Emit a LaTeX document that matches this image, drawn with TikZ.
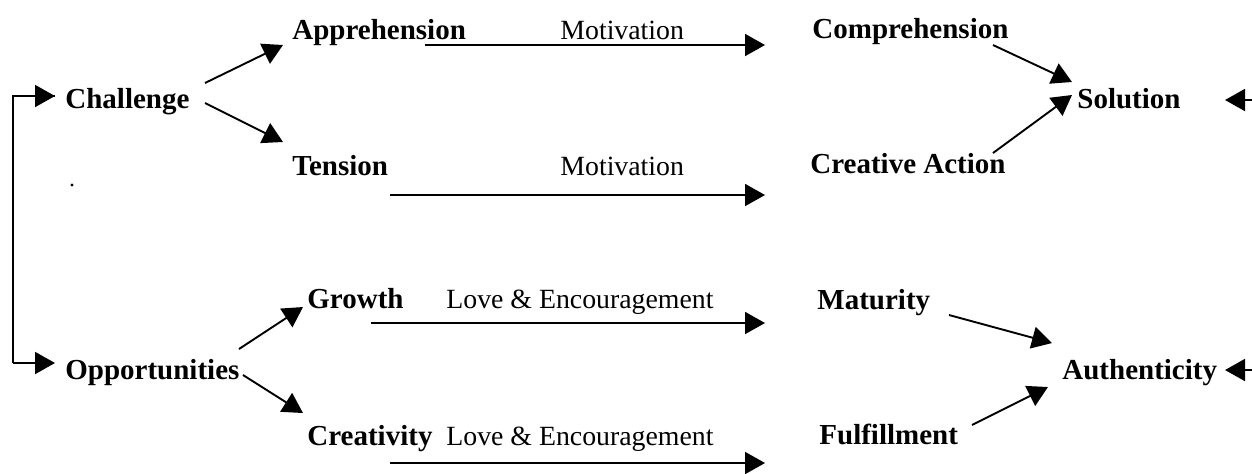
\documentclass[tikz,border=0pt]{standalone}
\usepackage{fontspec}
\setmainfont{Liberation Serif}
\usetikzlibrary{arrows.meta}
\begin{document}
\begin{tikzpicture}[x=0.5pt,y=-0.5pt,
  lbl/.style={anchor=base west,inner sep=0pt,font=\fontsize{14.5}{17}\selectfont\bfseries},
  rel/.style={anchor=base west,inner sep=0pt,font=\fontsize{13.9}{17}\selectfont},
  conn/.style={line width=0.95pt,-{Triangle[length=10pt,width=11pt]}},
  plain/.style={line width=0.95pt}]
\useasboundingbox (0,0) rectangle (1252,473);
% nodes
\node[lbl] (chal) at (65,108) {Challenge};
\node[lbl] (opp) at (65,379) {Opportunities};
\node[lbl] (appr) at (292,39) {Apprehension};
\node[rel] (mot1) at (560,39) {Motivation};
\node[lbl] (comp) at (812,38) {Comprehension};
\node[lbl] (tens) at (292,175) {Tension};
\node[rel] (mot2) at (560,175) {Motivation};
\node[lbl] (cract) at (810,173) {Creative Action};
\node[lbl] (sol) at (1077,108) {Solution};
\node[lbl] (grow) at (307,308) {Growth};
\node[rel] (love1) at (446,308) {Love \& Encouragement};
\node[lbl] (mat) at (817,309) {Maturity};
\node[lbl] (crea) at (307,445) {Creativity};
\node[rel] (love2) at (446,445) {Love \& Encouragement};
\node[lbl] (ful) at (819,444) {Fulfillment};
\node[lbl] (auth) at (1062,379) {Authenticity};
\node[inner sep=0pt,minimum size=1.6pt,fill=black,circle] (dot) at (72,185) {};
% coordinates
\coordinate (bk) at (13,96);
\coordinate (bk2) at (13,363);
\coordinate (chalin) at (55,96);
\coordinate (oppin) at (55,363);
\coordinate (chalA) at (205,83);
\coordinate (apprin) at (283,45);
\coordinate (chalB) at (205,103);
\coordinate (tensin) at (283,142);
\coordinate (approut) at (425,45);
\coordinate (compin) at (765,45);
\coordinate (tensout) at (390,195);
\coordinate (cractin) at (765,195);
\coordinate (compout) at (993,45);
\coordinate (solA) at (1072,82);
\coordinate (cractout) at (993,153);
\coordinate (solB) at (1072,95);
\coordinate (solR) at (1252,100);
\coordinate (solin) at (1225,100);
\coordinate (oppA) at (239,349);
\coordinate (growin) at (303,307);
\coordinate (oppB) at (243,375);
\coordinate (creain) at (303,413);
\coordinate (growout) at (371,323);
\coordinate (matin) at (765,323);
\coordinate (creaout) at (390,463);
\coordinate (fulin) at (765,463);
\coordinate (matout) at (949,315);
\coordinate (authA) at (1052,343);
\coordinate (fulout) at (972,425);
\coordinate (authB) at (1048,387);
\coordinate (authR) at (1252,370);
\coordinate (authin) at (1225,370);
% connectors
\draw[plain] (chalin) -- (bk) -- (bk2);
\draw[conn] (bk) -- (chalin);
\draw[conn] (bk2) -- (oppin);
\draw[conn] (chalA) -- (apprin);
\draw[conn] (chalB) -- (tensin);
\draw[conn] (approut) -- (compin);
\draw[conn] (tensout) -- (cractin);
\draw[conn] (compout) -- (solA);
\draw[conn] (cractout) -- (solB);
\draw[conn] (solR) -- (solin);
\draw[conn] (oppA) -- (growin);
\draw[conn] (oppB) -- (creain);
\draw[conn] (growout) -- (matin);
\draw[conn] (creaout) -- (fulin);
\draw[conn] (matout) -- (authA);
\draw[conn] (fulout) -- (authB);
\draw[conn] (authR) -- (authin);
\end{tikzpicture}
\end{document}
